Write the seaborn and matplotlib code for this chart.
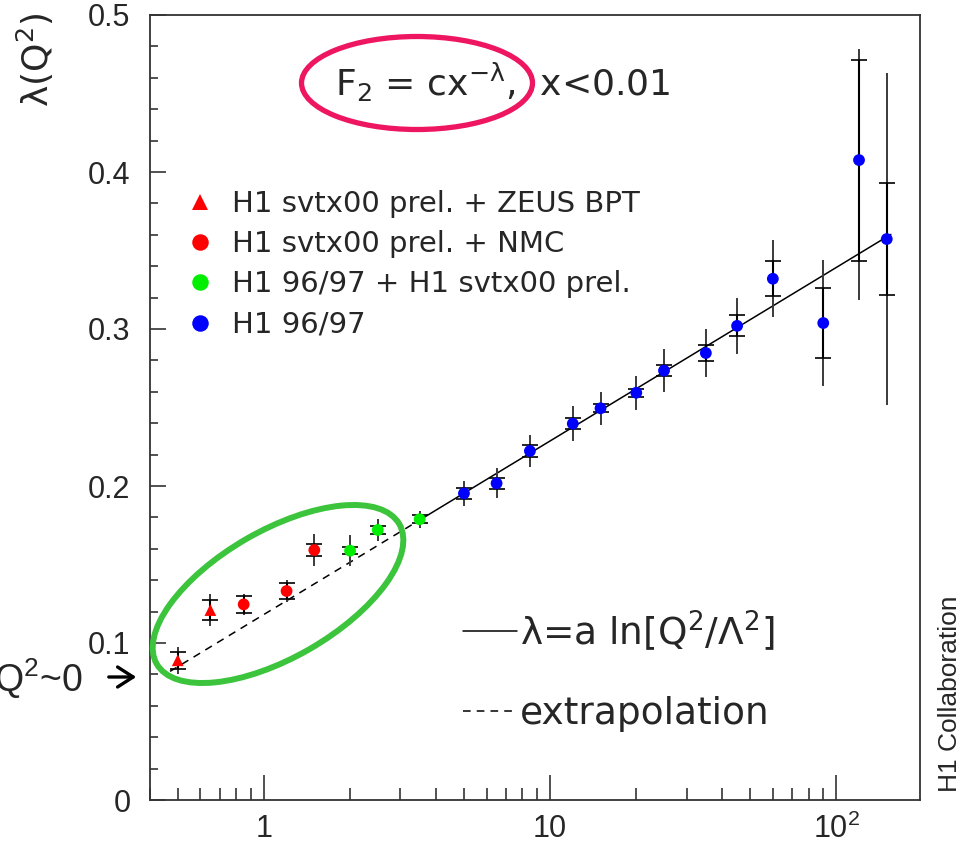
import numpy as np
import pandas as pd
import matplotlib
matplotlib.use("Agg")
import matplotlib.pyplot as plt
import seaborn as sns
from matplotlib.patches import Ellipse
from matplotlib.lines import Line2D
from matplotlib.ticker import MultipleLocator, LogLocator, NullFormatter

# ---- measurements: lambda(Q^2) from F2 = c x^-lambda, x < 0.01 ----
LABEL_ZEUS = "H1 svtx00 prel. + ZEUS BPT"
LABEL_NMC = "H1 svtx00 prel. + NMC"
LABEL_COMB = "H1 96/97 + H1 svtx00 prel."
LABEL_H1 = "H1 96/97"

q2_zeus = [0.5, 0.65]
lam_zeus = [0.089, 0.121]
stat_zeus = [0.0055, 0.0064]
tot_up_zeus = [0.0086, 0.0099]
tot_dn_zeus = [0.0086, 0.0099]

q2_nmc = [0.85, 1.2, 1.5]
lam_nmc = [0.1246, 0.1331, 0.1592]
stat_nmc = [0.0053, 0.0049, 0.0041]
tot_up_nmc = [0.0068, 0.0072, 0.0100]
tot_dn_nmc = [0.0068, 0.0072, 0.0100]

q2_comb = [2.0, 2.5, 3.5]
lam_comb = [0.1588, 0.172, 0.1788]
stat_comb = [0.0023, 0.0025, 0.0025]
tot_up_comb = [0.0099, 0.0071, 0.0053]
tot_dn_comb = [0.0099, 0.0071, 0.0053]

q2_h1 = [5.0, 6.5, 8.5, 12.0, 15.0, 20.0, 25.0, 35.0, 45.0, 60.0, 90.0, 120.0, 150.0]
lam_h1 = [0.1953, 0.2017, 0.2223, 0.2397, 0.2495, 0.2594, 0.2735, 0.2847,
          0.302, 0.332, 0.3038, 0.4076, 0.3573]
stat_h1 = [0.0037, 0.0037, 0.0037, 0.0037, 0.0025, 0.0025, 0.0035, 0.0048,
           0.0067, 0.011, 0.022, 0.064, 0.0355]
tot_up_h1 = [0.0079, 0.0096, 0.0103, 0.0113, 0.0106, 0.0108, 0.0138, 0.0155,
             0.0178, 0.0245, 0.040, 0.071, 0.106]
tot_dn_h1 = [0.0079, 0.0096, 0.0103, 0.0113, 0.0106, 0.0108, 0.0138, 0.0155,
             0.0178, 0.0245, 0.040, 0.089, 0.106]

# fit lambda = a ln(Q^2 / Lambda^2)
A_FIT = 0.048
LAMBDA_QCD = 0.292  # GeV
Q2_EXTRAP = (0.47, 3.5)
Q2_FIT = (3.5, 155.0)

x_ticks = [1, 10, 100]
x_tick_labels = ["1", "10", "$10^{2}$"]
y_ticks = [0.0, 0.1, 0.2, 0.3, 0.4, 0.5]
y_tick_labels = ["0", "0.1", "0.2", "0.3", "0.4", "0.5"]

sets = [
    (LABEL_ZEUS, q2_zeus, lam_zeus, stat_zeus, tot_up_zeus, tot_dn_zeus),
    (LABEL_NMC, q2_nmc, lam_nmc, stat_nmc, tot_up_nmc, tot_dn_nmc),
    (LABEL_COMB, q2_comb, lam_comb, stat_comb, tot_up_comb, tot_dn_comb),
    (LABEL_H1, q2_h1, lam_h1, stat_h1, tot_up_h1, tot_dn_h1),
]
order = [s[0] for s in sets]
palette = {LABEL_ZEUS: "#ff0000", LABEL_NMC: "#ff0000",
           LABEL_COMB: "#00ee00", LABEL_H1: "#0000ff"}
markers = {LABEL_ZEUS: "^", LABEL_NMC: "o", LABEL_COMB: "o", LABEL_H1: "o"}

df = pd.concat([pd.DataFrame({"Q2": q, "lam": l, "set": name})
                for name, q, l, *_ in sets], ignore_index=True)

sns.set_style("white")
plt.rcParams["font.family"] = ["DejaVu Sans"]
plt.rcParams["mathtext.default"] = "regular"

W, H = 968, 850
fig = plt.figure(figsize=(W / 100, H / 100), dpi=100)
ax = fig.add_axes([150 / W, 50 / H, 770 / W, 785 / H])


def fx(x):
    return x / W


def fy(y):
    return 1 - y / H


# error bars: total (no caps) and statistical (with caps)
for name, q, l, st, tu, td in sets:
    ax.errorbar(q, l, yerr=[td, tu], fmt="none", ecolor="#3a3a3a",
                elinewidth=1.4, capsize=0, zorder=3)
    ax.errorbar(q, l, yerr=st, fmt="none", ecolor="black",
                elinewidth=1.5, capsize=6, capthick=1.2, zorder=4)

sns.scatterplot(data=df, x="Q2", y="lam", hue="set", style="set",
                hue_order=order, style_order=order, palette=palette,
                markers=markers, s=72, linewidth=0, zorder=5, ax=ax)


def fit(q2):
    return A_FIT * np.log(q2 / LAMBDA_QCD ** 2)


q_fit = np.geomspace(*Q2_FIT, 120)
q_ext = np.geomspace(*Q2_EXTRAP, 60)
sns.lineplot(x=q_fit, y=fit(q_fit), color="black", lw=1.1, ax=ax, zorder=2)
sns.lineplot(x=q_ext, y=fit(q_ext), color="black", lw=1.1,
             linestyle=(0, (5, 4)), ax=ax, zorder=2)

ax.set_xscale("log")
ax.set_xlim(0.4, 196)
ax.set_ylim(0, 0.5)
ax.set_xlabel("")
ax.set_ylabel("")
ax.set_xticks(x_ticks, x_tick_labels)
ax.xaxis.set_minor_locator(LogLocator(base=10, subs=np.arange(2, 10)))
ax.xaxis.set_minor_formatter(NullFormatter())
ax.set_yticks(y_ticks, y_tick_labels)
ax.yaxis.set_minor_locator(MultipleLocator(0.02))

ax.tick_params(axis="both", which="both", direction="in", top=False, right=False,
               bottom=True, left=True, color="#222222")
ax.tick_params(axis="x", which="major", length=18, width=1.1, pad=10, labelsize=22)
ax.tick_params(axis="x", which="minor", length=9, width=1.1)
ax.tick_params(axis="y", which="major", length=11.5, width=1.1, pad=14, labelsize=22)
ax.tick_params(axis="y", which="minor", length=6, width=1.1)
for lbl in ax.get_xticklabels() + ax.get_yticklabels():
    lbl.set_fontfamily(["Liberation Sans", "DejaVu Sans"])
for sp in ax.spines.values():
    sp.set_linewidth(1.3)
    sp.set_color("#333333")

# data legend
handles, labels = ax.get_legend_handles_labels()
leg1 = ax.legend(handles, labels, loc="upper left",
                 bbox_to_anchor=(fx(185), fy(190)), bbox_transform=fig.transFigure,
                 frameon=False, fontsize=21, handlelength=1.0, handletextpad=0.6,
                 labelspacing=0.42, borderpad=0, borderaxespad=0, markerscale=1.4)
ax.add_artist(leg1)

# fit legend
fit_handles = [Line2D([], [], color="black", lw=1.1),
               Line2D([], [], color="black", lw=1.1, linestyle=(0, (5, 4)))]
fit_labels = [r"λ=a ln[Q$^2$/Λ$^2$]", "extrapolation"]
ax.legend(fit_handles, fit_labels, loc="upper left",
          bbox_to_anchor=(fx(463), fy(608)), bbox_transform=fig.transFigure,
          frameon=False, fontsize=27, handlelength=1.44, handletextpad=0.08,
          labelspacing=1.15, borderpad=0, borderaxespad=0)

# formula and highlights
fig.text(fx(335), fy(96), r"F$_2$ = cx$^{-\lambda}$,  x<0.01", fontsize=26,
         ha="left", va="baseline")
fig.add_artist(Ellipse((417 / 100, (H - 83) / 100), 2.31, 0.93, angle=0,
                       transform=fig.dpi_scale_trans, fill=False,
                       ec="#ee1660", lw=3.8))
fig.add_artist(Ellipse((278 / 100, (H - 594) / 100), 2.80, 1.27, angle=30,
                       transform=fig.dpi_scale_trans, fill=False,
                       ec="#3cc43c", lw=4.3))

fig.text(fx(35), fy(60), r"λ(Q$^2$)", rotation=90, fontsize=26,
         ha="center", va="center")
fig.text(fx(82), fy(692), r"Q$^2$~0", fontsize=27, ha="right", va="baseline",
         family=["Liberation Sans", "DejaVu Sans"])
# arrow pointing at the Q^2 -> 0 limit on the axis
fig.add_artist(matplotlib.patches.FancyArrowPatch(
    (fx(106), fy(677)), (fx(139), fy(677)), transform=fig.transFigure,
    arrowstyle="->,head_length=7,head_width=4.5", lw=2.4, color="black",
    mutation_scale=1.6))
fig.text(fx(950), fy(694), "H1 Collaboration", rotation=90, fontsize=19,
         ha="center", va="center", family=["Liberation Sans", "DejaVu Sans"])

fig.savefig("out.png", dpi=100, facecolor="white")
